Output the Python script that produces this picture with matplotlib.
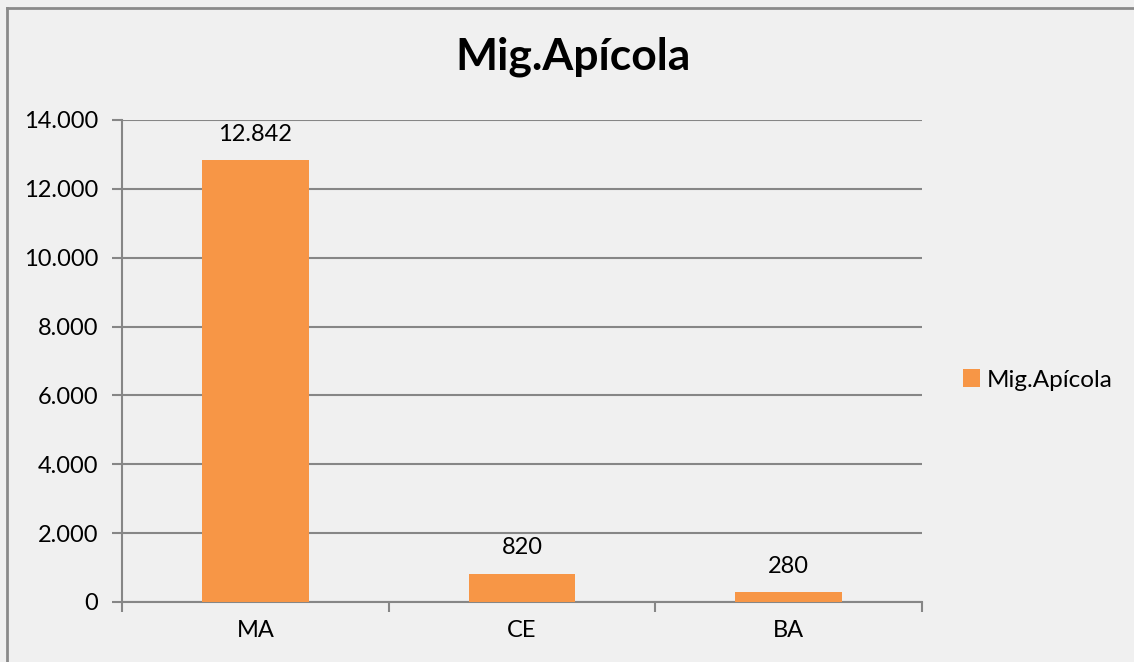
import matplotlib.pyplot as plt
from matplotlib.lines import Line2D
from matplotlib.ticker import FuncFormatter, FixedLocator

plt.rcParams['font.family'] = ['Lato', 'DejaVu Sans']

categorias = ['MA', 'CE', 'BA']
valores = [12842, 820, 280]
serie = 'Mig.Apícola'
yticks = [0, 2000, 4000, 6000, 8000, 10000, 12000, 14000]

fundo = '#f0f0f0'
laranja = '#f79646'
cinza = '#868686'


def milhar(v, pos=None):
    return f'{int(v):,}'.replace(',', '.')


fig = plt.figure(figsize=(11.34, 6.62), dpi=100, facecolor=fundo)
ax = fig.add_axes([122 / 1134, 1 - 602 / 662, 800 / 1134, 482 / 662])
ax.set_facecolor(fundo)

x = range(len(categorias))
barras = ax.bar(x, valores, width=0.4, color=laranja, label=serie, zorder=3)

for xi, v in zip(x, valores):
    ax.annotate(milhar(v), (xi, v), xytext=(0, 11), textcoords='offset points',
                ha='center', va='bottom', fontsize=17, color='black')

ax.set_xlim(-0.5, len(categorias) - 0.5)
ax.set_ylim(0, 14000)
ax.set_yticks(yticks)
ax.yaxis.set_major_formatter(FuncFormatter(milhar))
ax.yaxis.grid(True, color=cinza, linewidth=1.5, zorder=0)

ax.set_xticks(list(x))
ax.set_xticklabels(categorias)
ax.xaxis.set_minor_locator(FixedLocator([-0.5, 0.5, 1.5, 2.5]))
ax.tick_params(axis='x', which='major', length=0, pad=13, labelsize=17)
ax.tick_params(axis='x', which='minor', length=7, width=1.5, color=cinza)
ax.tick_params(axis='y', length=7, width=1.5, color=cinza, pad=10, labelsize=17)

for lado in ['top', 'right']:
    ax.spines[lado].set_visible(False)
for lado in ['left', 'bottom']:
    ax.spines[lado].set_color(cinza)
    ax.spines[lado].set_linewidth(1.5)

fig.text(573 / 1134, 1 - 57 / 662, serie, ha='center', va='center',
         fontsize=32, fontweight='bold')

fig.legend(handles=[barras], labels=[serie], loc='center left',
           bbox_to_anchor=(941 / 1134, 1 - 380 / 662), frameon=False,
           fontsize=17.5, handlelength=0.7, handleheight=0.7, handletextpad=0.3)

# moldura (só topo e esquerda aparecem no recorte)
fig.add_artist(Line2D([6.5 / 1134, 6.5 / 1134], [-0.05, 1 - 7.5 / 662],
                      color='#8a8a8a', linewidth=2, transform=fig.transFigure))
fig.add_artist(Line2D([6.5 / 1134, 1.05], [1 - 7.5 / 662, 1 - 7.5 / 662],
                      color='#8a8a8a', linewidth=2, transform=fig.transFigure))

fig.savefig('out.png', dpi=100, facecolor=fundo)
